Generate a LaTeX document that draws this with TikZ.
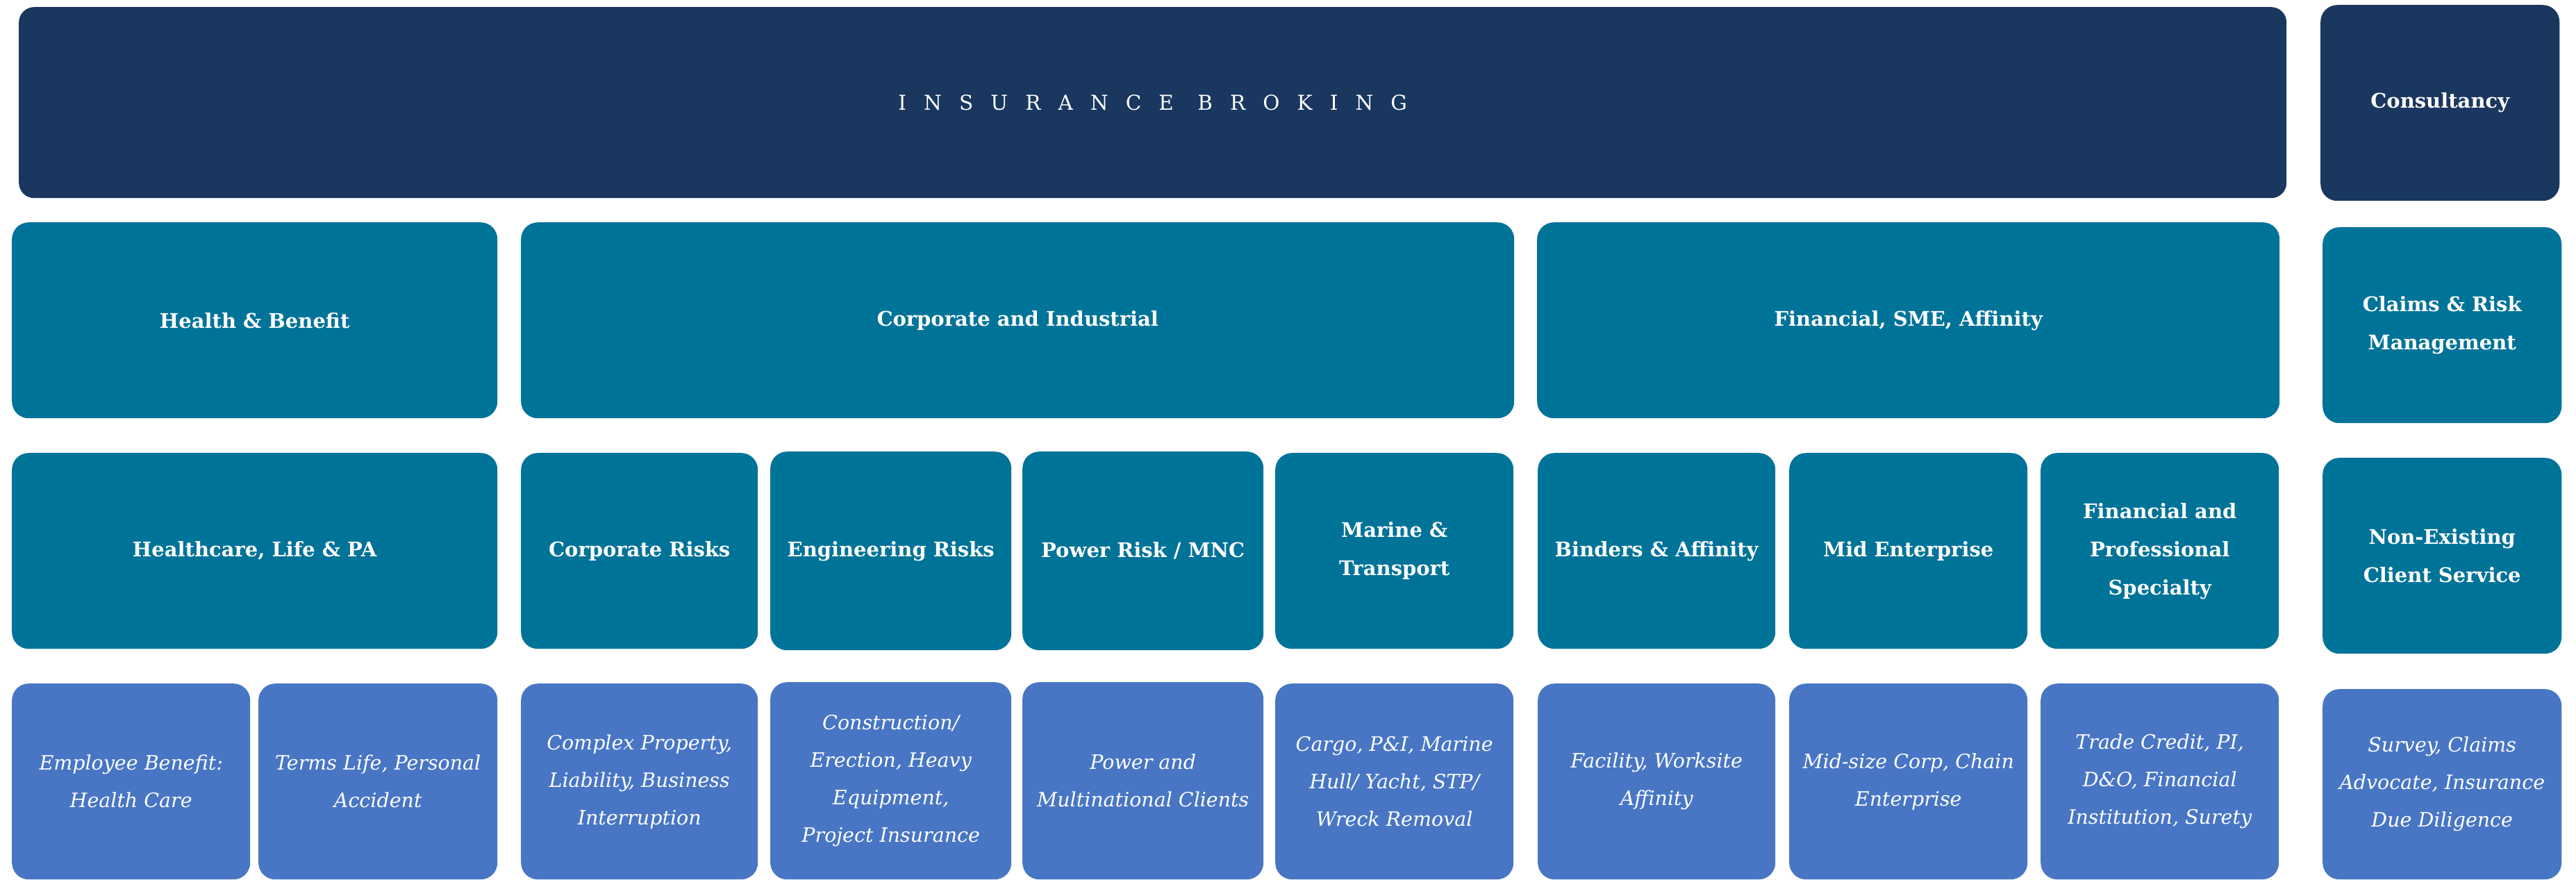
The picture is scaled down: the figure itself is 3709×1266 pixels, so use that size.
\documentclass[tikz,border=0pt]{standalone}
\usepackage{fontspec}
\setmainfont{DejaVu Serif}
\definecolor{navy}{HTML}{19375F}
\definecolor{tealb}{HTML}{007398}
\definecolor{blueb}{HTML}{4876C4}
\tikzset{
  base/.style={anchor=north west, rounded corners=24pt, text=white, align=center, inner sep=0pt},
  navybox/.style={base, fill=navy, font=\bfseries\fontsize{29}{55}\selectfont},
  tealbox/.style={base, fill=tealb, font=\bfseries\fontsize{29}{55}\selectfont},
  bluebox/.style={base, fill=blueb, font=\itshape\fontsize{28.5}{54}\selectfont},
  sz/.style 2 args={minimum width=#1pt, minimum height=#2pt}
}
\begin{document}
\begin{tikzpicture}[x=1pt,y=-1pt]
\useasboundingbox (0,0) rectangle (3709,1266);
% top row
\node[navybox, rounded corners=22pt, sz={3265}{275}, font=\fontsize{29.5}{34}\selectfont\addfontfeature{LetterSpace=85}] (ib) at (27,10) {INSURANCE BROKING};
\node[navybox, sz={344}{282}] (cons) at (3341,7) {Consultancy};
% row 2
\node[tealbox, sz={699}{282}] (hb) at (17,320) {Health \& Benefit};
\node[tealbox, sz={1430}{282}] (ci) at (750,320) {Corporate and Industrial};
\node[tealbox, sz={1069}{282}] (fs) at (2213,320) {Financial, SME, Affinity};
\node[tealbox, sz={344}{282}] (crm) at (3344,327) {Claims \& Risk\\Management};
% row 3
\node[tealbox, sz={699}{282}] (hc) at (17,652) {Healthcare, Life \& PA};
\node[tealbox, sz={341}{282}] (cr) at (750,652) {Corporate Risks};
\node[tealbox, sz={347}{286}] (er) at (1109,650) {Engineering Risks};
\node[tealbox, sz={347}{286}] (pr) at (1472,650) {Power Risk / MNC};
\node[tealbox, sz={343}{282}] (mt) at (1836,652) {Marine \&\\Transport};
\node[tealbox, sz={342}{282}] (ba) at (2214,652) {Binders \& Affinity};
\node[tealbox, sz={343}{282}] (me) at (2576,652) {Mid Enterprise};
\node[tealbox, sz={343}{282}] (fp) at (2938,652) {Financial and\\Professional\\Specialty};
\node[tealbox, sz={344}{282}] (ne) at (3344,659) {Non-Existing\\Client Service};
% row 4
\node[bluebox, sz={343}{282}] (eb) at (17,984) {Employee Benefit:\\Health Care};
\node[bluebox, sz={344}{282}] (tl) at (372,984) {Terms Life, Personal\\Accident};
\node[bluebox, sz={341}{282}] (cp) at (750,984) {Complex Property,\\Liability, Business\\Interruption};
\node[bluebox, sz={347}{284}] (ce) at (1109,982) {Construction/\\Erection, Heavy\\Equipment,\\Project Insurance};
\node[bluebox, sz={347}{284}] (pm) at (1472,982) {Power and\\Multinational Clients};
\node[bluebox, sz={343}{282}] (cg) at (1836,984) {Cargo, P\&I, Marine\\Hull/ Yacht, STP/\\Wreck Removal};
\node[bluebox, sz={342}{282}] (fw) at (2214,984) {Facility, Worksite\\Affinity};
\node[bluebox, sz={343}{282}] (mc) at (2576,984) {Mid-size Corp, Chain\\Enterprise};
\node[bluebox, sz={343}{282}] (tc) at (2938,984) {Trade Credit, PI,\\D\&O, Financial\\Institution, Surety};
\node[bluebox, sz={344}{274}] (sv) at (3344,992) {Survey, Claims\\Advocate, Insurance\\Due Diligence};
\end{tikzpicture}
\end{document}
